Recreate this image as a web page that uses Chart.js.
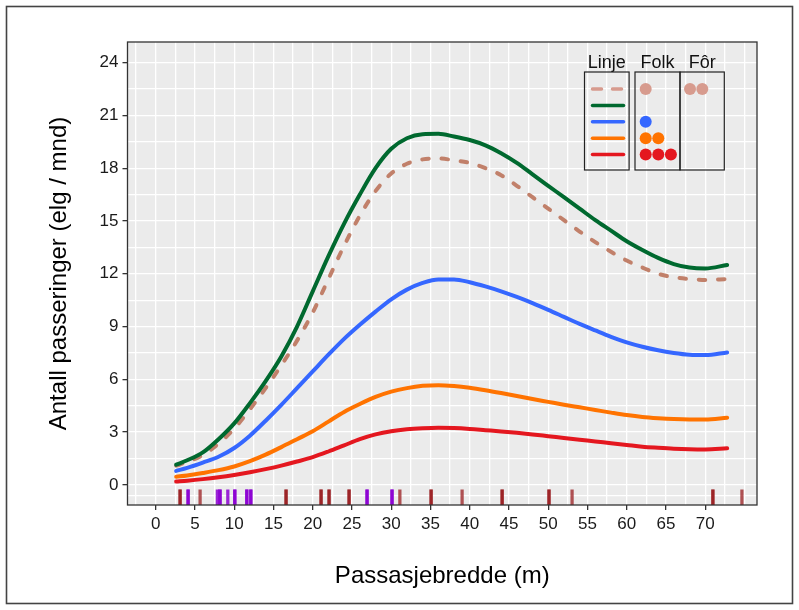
<!DOCTYPE html>
<html>
<head>
<meta charset="utf-8">
<script src="https://cdn.jsdelivr.net/npm/chart.js@4.4.1/dist/chart.umd.min.js"></script>
<style>
  html, body { margin: 0; padding: 0; background: #fff; }
</style>
</head>
<body>
<canvas id="elgChart" width="799" height="610"></canvas>
<script>
// Passage width (m) where the smoothed curves are sampled
const widths = [2.6, 4, 6, 8, 10, 12, 14, 16, 18, 20, 22, 24, 26, 28, 30, 32, 34, 36,
  38, 40, 42, 44, 46, 48, 50, 52, 54, 56, 58, 60, 62, 64, 66, 68, 70, 72.8];

// Predicted crossings per month for each combination of people / feeding
const folk1For2 = [1.1, 1.3, 1.7, 2.35, 3.2, 4.3, 5.5, 6.8, 8.2, 9.8, 11.7, 13.6, 15.3, 16.7, 17.7, 18.25, 18.5, 18.55,
  18.45, 18.3, 18.0, 17.6, 17.0, 16.35, 15.7, 15.05, 14.4, 13.8, 13.25, 12.75, 12.35, 12.0, 11.8, 11.7, 11.65, 11.7];
const folk0 = [1.15, 1.4, 1.85, 2.6, 3.5, 4.65, 5.9, 7.3, 9.0, 11.0, 13.0, 14.85, 16.5, 18.0, 19.1, 19.7, 19.93, 19.95,
  19.8, 19.6, 19.3, 18.85, 18.3, 17.65, 17.0, 16.35, 15.7, 15.05, 14.45, 13.85, 13.35, 12.9, 12.55, 12.35, 12.3, 12.5];
const folk1 = [0.8, 0.97, 1.27, 1.6, 2.1, 2.8, 3.65, 4.55, 5.5, 6.45, 7.4, 8.3, 9.1, 9.85, 10.55, 11.1, 11.48, 11.68,
  11.68, 11.52, 11.28, 11.0, 10.68, 10.33, 9.95, 9.55, 9.15, 8.78, 8.42, 8.1, 7.85, 7.65, 7.5, 7.4, 7.38, 7.53];
const folk2 = [0.47, 0.54, 0.68, 0.84, 1.05, 1.35, 1.72, 2.15, 2.6, 3.05, 3.6, 4.15, 4.6, 5.0, 5.3, 5.5, 5.63, 5.67,
  5.62, 5.52, 5.38, 5.22, 5.05, 4.88, 4.72, 4.56, 4.41, 4.26, 4.11, 3.97, 3.86, 3.79, 3.74, 3.72, 3.72, 3.82];
const folk3 = [0.19, 0.24, 0.33, 0.44, 0.57, 0.72, 0.9, 1.1, 1.33, 1.58, 1.9, 2.25, 2.6, 2.87, 3.05, 3.16, 3.22, 3.25,
  3.23, 3.18, 3.11, 3.04, 2.96, 2.87, 2.77, 2.67, 2.57, 2.47, 2.37, 2.27, 2.17, 2.11, 2.06, 2.03, 2.02, 2.08];

// Observed passage widths (rug), two site groups; repeated values are stacked sites
const sitesA = [3.1, 3.1, 5.65, 16.6, 16.6, 21.06, 21.06, 22.08, 22.08, 24.63, 24.63, 31.1, 35.08, 35.08,
  39.03, 44.13, 44.13, 50.1, 50.1, 53.04, 70.98, 70.98, 74.68];
const sitesB = [4.12, 4.12, 7.85, 8.19, 8.19, 9.18, 10.07, 10.07, 11.6, 11.6, 12.11, 12.11, 26.92, 26.92, 30.1, 30.1];

// Axis ticks and grid
const xTicks = [-2.5, 0, 2.5, 5, 7.5, 10, 12.5, 15, 17.5, 20, 22.5, 25, 27.5, 30, 32.5, 35, 37.5, 40,
  42.5, 45, 47.5, 50, 52.5, 55, 57.5, 60, 62.5, 65, 67.5, 70, 72.5, 75];
const yTicks = [-0.6, 0, 1.5, 3, 4.5, 6, 7.5, 9, 10.5, 12, 13.5, 15, 16.5, 18, 19.5, 21, 22.5, 24];

// Legend table: people count and feeding count per row
const legendFolk = [1, 0, 1, 2, 3];
const legendFor = [2, 0, 0, 0, 0];

const X_MIN = -3.6, X_MAX = 76.6;
const Y_MIN = -1.14, Y_MAX = 25.17;
const RUG_TOP = Y_MIN + 0.033 * (Y_MAX - Y_MIN);

const colors = {
  folk1For2: '#c1806a',
  folk0: '#00692f',
  folk1: '#3567ff',
  folk2: '#ff7300',
  folk3: '#e4171f',
  sitesA: 'rgba(150, 20, 22, 0.72)',
  sitesB: 'rgba(140, 0, 210, 0.85)'
};
const legendColors = ['#d79b8e', colors.folk0, colors.folk1, colors.folk2, colors.folk3];
const legendDash = [[9, 11], [], [], [], []];

const FONT = "'Liberation Sans', Arial, sans-serif";

function curve(label, values, color, order, dash) {
  return {
    type: 'line',
    label: label,
    data: widths.map((w, i) => ({ x: w, y: values[i] })),
    borderColor: color,
    borderWidth: 4,
    borderDash: dash || [],
    borderCapStyle: 'round',
    pointRadius: 0,
    cubicInterpolationMode: 'monotone',
    fill: false,
    order: order
  };
}

function rug(label, sites, color) {
  return {
    type: 'bar',
    label: label,
    data: sites.map(s => ({ x: s, y: [Y_MIN, RUG_TOP] })),
    backgroundColor: color,
    borderWidth: 0,
    barThickness: 2.6,
    grouped: false,
    order: 10
  };
}

const panelPlugin = {
  id: 'panel',
  beforeDraw(chart) {
    const { ctx, chartArea: a } = chart;
    ctx.save();
    ctx.fillStyle = '#fff';
    ctx.fillRect(0, 0, chart.width, chart.height);
    ctx.fillStyle = '#ebebeb';
    ctx.fillRect(a.left, a.top, a.right - a.left, a.bottom - a.top);
    ctx.restore();
  },
  afterDraw(chart) {
    const { ctx, chartArea: a } = chart;
    ctx.save();
    ctx.strokeStyle = '#333';
    ctx.lineWidth = 1.3;
    ctx.strokeRect(a.left, a.top, a.right - a.left, a.bottom - a.top);
    // outer frame
    ctx.strokeStyle = '#444';
    ctx.lineWidth = 1.6;
    ctx.strokeRect(6.5, 6.5, chart.width - 13, chart.height - 13);
    ctx.restore();
  }
};

const tableLegend = {
  id: 'tableLegend',
  afterDraw(chart) {
    const { ctx, chartArea: a } = chart;
    const top = a.top + 30;
    const h = 98;
    const cols = [a.right - 172.5, a.right - 122, a.right - 77];
    const colW = [44.6, 45, 44.3];
    ctx.save();
    ctx.strokeStyle = '#222';
    ctx.lineWidth = 1.2;
    cols.forEach((c, i) => ctx.strokeRect(c, top, colW[i], h));

    ctx.fillStyle = '#111';
    ctx.font = '18px ' + FONT;
    ctx.textAlign = 'center';
    ctx.textBaseline = 'alphabetic';
    ['Linje', 'Folk', 'Fôr'].forEach((t, i) => ctx.fillText(t, cols[i] + colW[i] / 2, top - 4));

    legendColors.forEach((col, r) => {
      const y = top + 17 + r * 16.4;
      ctx.strokeStyle = col;
      ctx.lineWidth = 3.5;
      ctx.lineCap = 'round';
      ctx.setLineDash(legendDash[r]);
      ctx.beginPath();
      ctx.moveTo(cols[0] + 8, y);
      ctx.lineTo(cols[0] + 39, y);
      ctx.stroke();
      ctx.setLineDash([]);
      ctx.fillStyle = col;
      for (let k = 0; k < legendFolk[r]; k++) {
        ctx.beginPath();
        ctx.arc(cols[1] + 10.7 + k * 12.6, y, 6, 0, Math.PI * 2);
        ctx.fill();
      }
      for (let k = 0; k < legendFor[r]; k++) {
        ctx.beginPath();
        ctx.arc(cols[2] + 10 + k * 12.3, y, 6, 0, Math.PI * 2);
        ctx.fill();
      }
    });
    ctx.restore();
  }
};

const isMajorX = v => v >= 0 && v <= 70 && v % 5 === 0;
const isMajorY = v => v >= 0 && v % 3 === 0;

new Chart(document.getElementById('elgChart').getContext('2d'), {
  type: 'line',
  data: {
    datasets: [
      curve('Folk 1, fôr 2', folk1For2, colors.folk1For2, 2, [6.5, 12.8]),
      curve('Ingen', folk0, colors.folk0, 1),
      curve('Folk 1', folk1, colors.folk1, 3),
      curve('Folk 2', folk2, colors.folk2, 4),
      curve('Folk 3', folk3, colors.folk3, 5),
      rug('Lokalitet A', sitesA, colors.sitesA),
      rug('Lokalitet B', sitesB, colors.sitesB)
    ]
  },
  options: {
    responsive: false,
    animation: false,
    layout: { padding: { left: 0, top: 42, right: 42, bottom: 0 } },
    plugins: {
      legend: { display: false },
      tooltip: { enabled: false }
    },
    scales: {
      x: {
        type: 'linear',
        min: X_MIN,
        max: X_MAX,
        offset: false,
        afterBuildTicks: s => { s.ticks = xTicks.map(v => ({ value: v })); },
        afterFit: s => { s.height = 105; },
        ticks: {
          autoSkip: false,
          maxRotation: 0,
          padding: 4,
          color: '#1a1a1a',
          font: { family: FONT, size: 17 },
          callback: v => isMajorX(v) ? String(v) : ''
        },
        grid: {
          offset: false,
          color: '#ffffff',
          lineWidth: 1.3,
          tickLength: 5,
          tickColor: c => isMajorX(c.tick.value) ? '#333' : 'rgba(0,0,0,0)'
        },
        border: { display: false },
        title: {
          display: true,
          text: 'Passasjebredde (m)',
          color: '#000',
          font: { family: FONT, size: 24 },
          padding: { top: 0, bottom: 19 }
        }
      },
      y: {
        type: 'linear',
        min: Y_MIN,
        max: Y_MAX,
        afterBuildTicks: s => { s.ticks = yTicks.map(v => ({ value: v })); },
        afterFit: s => { s.width = 127.5; },
        ticks: {
          autoSkip: false,
          padding: 4,
          color: '#1a1a1a',
          font: { family: FONT, size: 17 },
          callback: v => isMajorY(v) ? String(v) : ''
        },
        grid: {
          color: '#ffffff',
          lineWidth: 1.3,
          tickLength: 5,
          tickColor: c => isMajorY(c.tick.value) ? '#333' : 'rgba(0,0,0,0)'
        },
        border: { display: false },
        title: {
          display: true,
          text: 'Antall passeringer (elg / mnd)',
          color: '#000',
          font: { family: FONT, size: 24 },
          padding: { top: 45, bottom: 0 }
        }
      }
    }
  },
  plugins: [panelPlugin, tableLegend]
});
</script>
</body>
</html>
